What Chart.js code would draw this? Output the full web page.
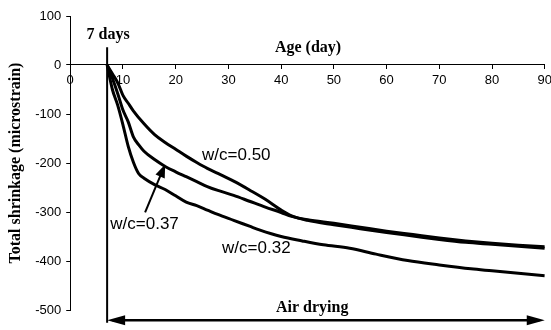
<!DOCTYPE html>
<html lang="en">
<head>
    <meta charset="UTF-8">
    <title>Total shrinkage vs age</title>
    <script src="https://cdn.jsdelivr.net/npm/chart.js"></script>
    <style>
        body {
            margin: 0;
            background-color: #fff;
            overflow: hidden;
        }

        /* a bit wider than the window so the last x label is cut like in the scan */
        .container {
            width: 556px;
            height: 330px;
        }
    </style>
</head>
<body>
    <div class="container">
        <canvas id="myChart"></canvas>
    </div>

    <script>
        // age (day) and total shrinkage (microstrain)
        var ageW50 = [7, 8, 9, 10, 11, 12, 14, 16, 18, 20, 22, 24, 26, 28, 31, 34, 37, 40, 42, 45, 50, 55, 60, 65, 70, 75, 80, 85, 90];
        var shrinkW50 = [0, -18, -36, -62, -78, -94, -120, -142, -158, -172, -186, -199, -211, -221, -237, -255, -274, -296, -308, -317, -326, -334, -342, -349, -356, -362, -366, -370, -374];

        var ageW37 = [7, 8, 9, 10, 11, 12, 13, 14, 16, 18, 20, 22, 24, 26, 28, 31, 34, 37, 40, 42, 45, 50, 55, 60, 65, 70, 75, 80, 85, 90];
        var shrinkW37 = [0, -27, -58, -92, -116, -147, -163, -176, -193, -207, -218, -228, -238, -248, -256, -266, -278, -290, -301, -309, -316, -323, -331, -339, -346, -353, -359, -364, -368, -371];

        var ageW32 = [7, 8, 9, 10, 11, 12, 13, 14, 16, 18, 20, 22, 24, 26, 28, 31, 34, 36, 40, 44, 48, 53, 58, 64, 70, 76, 80, 85, 90];
        var shrinkW32 = [0, -50, -82, -122, -166, -199, -222, -231, -244, -254, -267, -280, -287, -296, -305, -317, -329, -337, -350, -359, -367, -374, -386, -399, -408, -416, -420, -425, -430];

        var seriesNames = ['w/c=0.50', 'w/c=0.37', 'w/c=0.32'];

        // axis ticks
        var xTickValues = [0, 10, 20, 30, 40, 50, 60, 70, 80, 90];
        var yTickValues = [100, 0, -100, -200, -300, -400, -500];

        // start of air drying and the drying period marker
        var dryStart = 7;
        var dryEnd = 90;

        function toPoints(xs, ys) {
            return xs.map(function (x, i) { return { x: x, y: ys[i] }; });
        }

        var curveStyle = {
            borderColor: '#000',
            borderWidth: 3,
            pointRadius: 0,
            fill: false,
            cubicInterpolationMode: 'monotone'
        };

        // arrow heads and the text notes
        function arrowHead(ctx, x0, y0, x1, y1, len, half) {
            var a = Math.atan2(y1 - y0, x1 - x0);
            ctx.beginPath();
            ctx.moveTo(x1, y1);
            ctx.lineTo(x1 - len * Math.cos(a) + half * Math.sin(a), y1 - len * Math.sin(a) - half * Math.cos(a));
            ctx.lineTo(x1 - len * Math.cos(a) - half * Math.sin(a), y1 - len * Math.sin(a) + half * Math.cos(a));
            ctx.closePath();
            ctx.fill();
        }

        var notesPlugin = {
            id: 'notes',
            afterDatasetsDraw: function (chart) {
                var ctx = chart.ctx;
                var x = chart.scales.x;
                var y = chart.scales.y;
                ctx.save();
                ctx.fillStyle = '#000';

                // air drying arrow heads
                var ya = y.getPixelForValue(-521);
                var xs = x.getPixelForValue(dryStart);
                var xe = x.getPixelForValue(dryEnd);
                arrowHead(ctx, xe, ya, xs, ya, 18, 5);
                arrowHead(ctx, xs, ya, xe, ya, 18, 5);

                // pointer to the w/c=0.37 curve
                arrowHead(ctx, x.getPixelForValue(14.2), y.getPixelForValue(-301),
                    x.getPixelForValue(18), y.getPixelForValue(-203), 13, 5);

                ctx.textBaseline = 'middle';
                ctx.textAlign = 'center';
                ctx.font = 'bold 16px "Liberation Serif"';
                ctx.fillText('7 days', x.getPixelForValue(7.2), y.getPixelForValue(62));
                ctx.fillText('Age (day)', x.getPixelForValue(45.1), y.getPixelForValue(36));
                ctx.fillText('Air drying', x.getPixelForValue(45.9), y.getPixelForValue(-495));

                ctx.textAlign = 'left';
                ctx.font = '17px "Liberation Sans"';
                ctx.fillText(seriesNames[0], x.getPixelForValue(25), y.getPixelForValue(-185));
                ctx.fillText(seriesNames[1], x.getPixelForValue(7.6), y.getPixelForValue(-325));
                ctx.fillText(seriesNames[2], x.getPixelForValue(28.8), y.getPixelForValue(-374));
                ctx.restore();
            }
        };

        var ctx = document.getElementById('myChart').getContext('2d');
        var myChart = new Chart(ctx, {
            type: 'line',
            data: {
                datasets: [
                    Object.assign({ label: seriesNames[0], data: toPoints(ageW50, shrinkW50) }, curveStyle),
                    Object.assign({ label: seriesNames[1], data: toPoints(ageW37, shrinkW37) }, curveStyle),
                    Object.assign({ label: seriesNames[2], data: toPoints(ageW32, shrinkW32) }, curveStyle),
                    {
                        label: 'start',
                        data: [{ x: dryStart, y: 36 }, { x: dryStart, y: -526 }],
                        borderColor: '#000', borderWidth: 2, pointRadius: 0, clip: false
                    },
                    {
                        label: 'air drying',
                        data: [{ x: dryStart + 1, y: -521 }, { x: dryEnd - 1, y: -521 }],
                        borderColor: '#000', borderWidth: 2.5, pointRadius: 0, clip: false
                    },
                    {
                        label: 'pointer',
                        data: [{ x: 14.2, y: -301 }, { x: 17.4, y: -218 }],
                        borderColor: '#000', borderWidth: 2, pointRadius: 0, clip: false
                    }
                ]
            },
            options: {
                responsive: true,
                maintainAspectRatio: false,
                animation: false,
                layout: {
                    padding: { left: 6, top: 16, right: 0, bottom: 20 }
                },
                plugins: {
                    legend: { display: false },
                    tooltip: { enabled: false }
                },
                scales: {
                    x: {
                        type: 'linear',
                        position: { y: 0 },
                        min: xTickValues[0],
                        max: xTickValues[xTickValues.length - 1],
                        afterBuildTicks: function (s) {
                            s.ticks = xTickValues.map(function (v) { return { value: v }; });
                        },
                        border: { color: '#000', width: 1 },
                        grid: { drawOnChartArea: false, tickLength: 4, color: '#000' },
                        ticks: {
                            color: '#000',
                            padding: 4,
                            maxRotation: 0,
                            font: { family: 'Liberation Sans', size: 13 }
                        }
                    },
                    y: {
                        min: yTickValues[yTickValues.length - 1],
                        max: yTickValues[0],
                        afterBuildTicks: function (s) {
                            s.ticks = yTickValues.map(function (v) { return { value: v }; });
                        },
                        border: { color: '#000', width: 1 },
                        grid: { drawOnChartArea: false, tickLength: 4, color: '#000' },
                        ticks: {
                            color: '#000',
                            padding: 5,
                            font: { family: 'Liberation Sans', size: 13 }
                        },
                        title: {
                            display: true,
                            text: 'Total shrinkage (microstrain)',
                            color: '#000',
                            padding: { top: 0, bottom: 5 },
                            font: { family: 'Liberation Serif', size: 16, weight: 'bold' }
                        }
                    }
                }
            },
            plugins: [notesPlugin]
        });
    </script>
</body>
</html>
